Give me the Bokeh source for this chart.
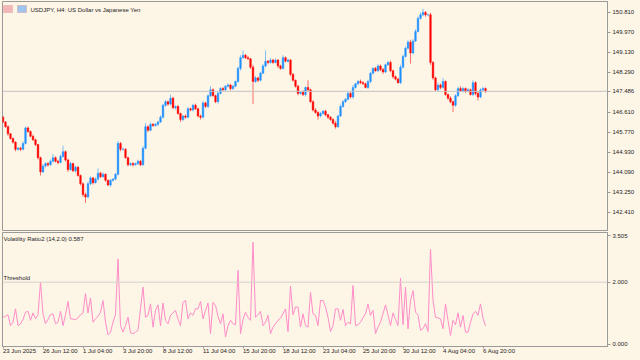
from bokeh.plotting import figure
from bokeh.layouts import column
from bokeh.models import (ColumnDataSource, FixedTicker, Range1d, Span, Label,
                          PrintfTickFormatter, BoxAnnotation)
from bokeh.embed import file_html
from bokeh.resources import INLINE
import pandas as pd

# ---------------- data ----------------
symbol_title = "USDJPY, H4:  US Dollar vs Japanese Yen"
indicator_title = "Volatility Ratio2 (14,2.0) 0.587"
threshold_text = "Threshold"
first_bar_time = "2025-06-23 20:00"
last_bar_time = "2025-08-07 00:00"
first_open = 146.40

closes = [
    146.20, 146.00, 145.70, 145.50, 145.35, 145.05, 145.10, 145.05, 145.30, 145.95,
    145.80, 145.60, 145.45, 145.25, 144.70, 144.10, 144.35, 144.45, 144.40, 144.55,
    144.70, 144.55, 144.50, 144.75, 144.95, 144.60, 144.20, 144.45, 144.15, 144.30,
    143.95, 143.60, 143.15, 143.05, 143.60, 143.85, 143.65, 143.80, 144.05, 143.90,
    144.00, 143.75, 143.55, 143.75, 143.80, 144.00, 145.30, 145.05, 145.05, 144.70,
    144.40, 144.45, 144.40, 144.45, 144.55, 144.40, 145.10, 146.00, 145.85, 146.10,
    146.05, 146.10, 146.20, 146.40, 146.90, 147.05, 146.95, 147.20, 146.80, 146.85,
    146.55, 146.30, 146.45, 146.40, 146.75, 146.70, 146.90, 146.75, 146.45, 146.40,
    147.00, 146.85, 147.30, 147.55, 147.30, 147.05, 147.40, 147.60, 147.55, 147.70,
    147.75, 147.60, 147.70, 147.90, 148.45, 148.90, 149.00, 148.90, 148.85, 148.50,
    147.90, 148.05, 147.95, 148.25, 148.55, 148.75, 148.70, 148.80, 148.70, 148.80,
    148.55, 148.45, 148.90, 148.75, 148.80, 148.20, 147.95, 147.70, 147.40, 147.45,
    147.35, 147.65, 147.55, 147.05, 146.70, 146.60, 146.45, 146.55, 146.65, 146.50,
    146.40, 146.30, 146.15, 146.00, 146.45, 146.85, 147.05, 147.15, 147.40, 147.25,
    147.65, 147.80, 147.90, 147.85, 147.80, 147.65, 147.90, 148.25, 148.45, 148.35,
    148.55, 148.40, 148.30, 148.60, 148.70, 148.35, 148.10, 148.00, 147.85, 148.50,
    148.95, 149.30, 149.55, 149.10, 149.60, 150.00, 150.55, 150.70, 150.80, 150.70,
    150.70, 148.70, 148.05, 147.55, 147.75, 147.65, 147.90, 147.35, 147.20, 147.05,
    146.90, 147.30, 147.60, 147.50, 147.60, 147.50, 147.55, 147.35, 147.85, 147.40,
    147.25, 147.55, 147.60, 147.486,
]

# upper / lower shadow lengths (in 0.01 yen)
wick_up = [
    5, 4, 6, 3, 5, 4, 5, 6, 8, 5, 6, 4, 7, 5, 3, 4, 8, 6, 5, 7,
    15, 5, 6, 8, 25, 5, 6, 8, 4, 6, 5, 4, 6, 8, 10, 6, 4, 7, 20, 5,
    8, 4, 3, 5, 4, 6, 10, 6, 8, 5, 4, 5, 6, 4, 7, 5, 8, 15, 6, 8,
    5, 6, 4, 8, 6, 8, 4, 15, 6, 5, 7, 4, 5, 6, 8, 5, 6, 7, 5, 6,
    8, 5, 6, 15, 6, 5, 8, 6, 7, 5, 8, 5, 6, 4, 8, 10, 20, 5, 8, 4,
    10, 8, 5, 6, 8, 45, 6, 8, 5, 7, 4, 6, 10, 5, 6, 4, 5, 3, 6, 4,
    8, 4, 30, 5, 6, 8, 5, 7, 5, 6, 4, 5, 6, 8, 6, 8, 7, 5, 8, 6,
    10, 4, 7, 8, 6, 5, 7, 4, 5, 6, 8, 6, 7, 5, 6, 8, 4, 5, 6, 10,
    8, 6, 8, 10, 8, 10, 8, 10, 15, 6, 5, 8, 6, 5, 10, 6, 15, 5, 4, 8,
    5, 6, 8, 10, 6, 5, 8, 5, 10, 6, 8, 6, 8, 5,
]
wick_dn = [
    6, 5, 8, 4, 6, 8, 5, 8, 4, 5, 6, 4, 5, 6, 8, 15, 5, 6, 8, 4,
    6, 5, 8, 4, 5, 6, 10, 5, 6, 8, 5, 6, 10, 25, 6, 5, 8, 4, 6, 5,
    4, 6, 5, 8, 6, 5, 5, 8, 6, 4, 6, 5, 8, 4, 6, 5, 4, 5, 8, 4,
    6, 5, 8, 4, 5, 6, 8, 5, 6, 8, 4, 10, 5, 6, 4, 5, 6, 4, 6, 10,
    5, 6, 8, 5, 4, 6, 8, 5, 4, 6, 5, 8, 6, 4, 5, 10, 5, 6, 4, 8,
    95, 6, 8, 5, 4, 6, 8, 5, 6, 4, 8, 6, 5, 4, 6, 8, 5, 6, 8, 5,
    6, 8, 5, 4, 6, 5, 15, 6, 4, 6, 8, 5, 6, 8, 5, 4, 6, 5, 4, 6,
    8, 5, 4, 6, 5, 4, 6, 8, 6, 4, 5, 6, 8, 5, 4, 6, 8, 5, 4, 6,
    5, 4, 6, 45, 6, 5, 4, 5, 6, 8, 6, 10, 8, 6, 5, 8, 6, 5, 8, 6,
    28, 6, 5, 4, 6, 8, 5, 4, 6, 8, 15, 5, 6, 6,
]

vol_ratio = [
    0.87, 0.90, 0.95, 0.60, 0.71, 1.14, 0.60, 0.66, 0.80, 1.03,
    1.06, 0.77, 1.01, 0.82, 0.95, 2.00, 0.98, 0.66, 0.80, 0.95,
    0.98, 0.66, 0.71, 1.06, 0.60, 0.95, 1.38, 0.82, 0.81, 0.79,
    0.85, 0.95, 1.01, 1.63, 1.01, 1.49, 0.71, 0.82, 0.90, 1.03,
    1.41, 0.71, 0.30, 0.39, 0.71, 0.95, 2.75, 0.60, 0.39, 0.60,
    0.87, 0.37, 0.34, 0.39, 0.45, 1.14, 1.84, 0.87, 0.93, 1.30,
    0.55, 1.09, 1.27, 0.60, 1.33, 0.77, 0.66, 0.93, 1.01, 1.09,
    0.82, 0.60, 1.35, 1.41, 0.82, 1.01, 0.93, 1.14, 1.14, 1.38,
    0.82, 1.09, 1.33, 0.34, 1.35, 1.25, 0.90, 0.66, 0.98, 0.23,
    0.60, 0.77, 0.66, 0.63, 2.38, 0.34, 0.80, 1.03, 0.87, 0.77,
    3.29, 0.87, 0.95, 1.06, 0.60, 0.71, 0.93, 0.34, 0.55, 0.66,
    0.77, 0.84, 0.98, 1.14, 0.41, 1.87, 0.95, 1.20, 1.20, 0.55,
    0.98, 0.60, 0.55, 1.68, 0.98, 0.93, 0.60, 1.41, 1.41, 1.20,
    0.87, 0.41, 0.60, 1.14, 1.14, 0.77, 1.12, 0.60, 0.71, 0.66,
    1.89, 0.60, 0.63, 0.71, 0.85, 0.98, 1.30, 0.93, 1.09, 0.34,
    0.55, 0.71, 0.98, 1.27, 0.95, 0.60, 1.01, 0.80, 0.60, 2.13,
    0.63, 1.84, 0.50, 1.41, 1.73, 1.03, 0.95, 0.45, 0.50, 0.66,
    0.41, 3.07, 1.41, 0.87, 0.85, 0.82, 0.50, 1.30, 0.77, 0.28,
    0.77, 0.63, 1.01, 0.55, 0.93, 0.39, 0.39, 0.70, 0.98, 1.06,
    0.93, 1.30, 0.84, 0.587,
]
threshold = 2.0

price_ticks = [142.41, 143.25, 144.09, 144.93, 145.77, 146.61, 148.29, 149.13, 149.97, 150.81]
vol_ticks = [0.0, 2.0, 3.505]

time_label_times = ["2025-06-23 20:00", "2025-06-26 12:00", "2025-07-01 04:00", "2025-07-03 20:00",
                    "2025-07-08 12:00", "2025-07-11 04:00", "2025-07-15 20:00", "2025-07-18 12:00",
                    "2025-07-23 04:00", "2025-07-25 20:00", "2025-07-30 12:00", "2025-08-04 04:00",
                    "2025-08-06 20:00"]
time_label_texts = ["23 Jun 2025", "26 Jun 12:00", "1 Jul 04:00", "3 Jul 20:00", "8 Jul 12:00",
                    "11 Jul 04:00", "15 Jul 20:00", "18 Jul 12:00", "23 Jul 04:00", "25 Jul 20:00",
                    "30 Jul 12:00", "4 Aug 04:00", "6 Aug 20:00"]

# ---------------- derived ----------------
times = pd.date_range(first_bar_time, last_bar_time, freq="4h")
times = times[times.weekday < 5]
n = len(closes)
idx = list(range(n))
opens = [first_open] + closes[:-1]
highs = [max(o, c) + u / 100.0 for o, c, u in zip(opens, closes, wick_up)]
lows = [min(o, c) - d / 100.0 for o, c, d in zip(opens, closes, wick_dn)]
up = [c >= o for o, c in zip(opens, closes)]

bull, bear = "#1E90FF", "#FF0000"
src = ColumnDataSource(dict(
    x=idx, o=opens, c=closes, h=highs, l=lows,
    top=[max(o, c) for o, c in zip(opens, closes)],
    bot=[min(o, c) for o, c in zip(opens, closes)],
    col=[bull if u else bear for u in up],
))

bg = "#FDF5E6"
frame_col = "#9A9A9A"
txt_col = "#1E1E1E"
FONT = "Liberation Sans"
FS = "6px"

xr = Range1d(-0.2, 241.8)
last_close = closes[-1]


def style_axis(ax):
    ax.major_label_text_font_size = FS
    ax.major_label_text_font = FONT
    ax.major_label_text_color = txt_col
    ax.major_tick_out = 3
    ax.major_tick_in = 0
    ax.minor_tick_out = 0
    ax.minor_tick_in = 0
    ax.major_label_standoff = 2
    ax.axis_line_color = frame_col
    ax.major_tick_line_color = frame_col


# ---------------- price pane ----------------
p1 = figure(width=640, height=231, x_range=xr, y_range=Range1d(141.641, 151.259),
            output_backend="svg", toolbar_location=None, y_axis_location="right",
            x_axis_location=None, min_border_left=2, min_border_right=33,
            min_border_top=1, min_border_bottom=1,
            background_fill_color=bg, border_fill_color=bg,
            outline_line_color=frame_col, outline_line_width=1)
p1.grid.visible = False
ay = p1.yaxis[0]
ay.ticker = FixedTicker(ticks=price_ticks + [last_close])
ay.formatter = PrintfTickFormatter(format="%.3f")
style_axis(ay)

p1.add_layout(Span(location=last_close, dimension="width", line_color="#C2C2C2", line_width=1))

p1.segment(x0="x", y0="l", x1="x", y1="h", source=src, line_color="col", line_alpha=0.55, line_width=1)
p1.vbar(x="x", top="top", bottom="bot", width=0.62, source=src, fill_color="col", line_color="col",
        line_width=0.5)

# chart-window icons (top left)
p1.add_layout(BoxAnnotation(left=1, right=10, top=225, bottom=218, left_units="screen",
                            right_units="screen", top_units="screen", bottom_units="screen",
                            fill_color="#F2B8B8", fill_alpha=1, line_color="#E08080", line_width=1))
p1.add_layout(BoxAnnotation(left=15, right=24, top=225, bottom=218, left_units="screen",
                            right_units="screen", top_units="screen", bottom_units="screen",
                            fill_color="#9CC6F0", fill_alpha=1, line_color="#E07070", line_width=1))
p1.add_layout(Label(x=28, y=221, x_units="screen", y_units="screen", text=symbol_title,
                    text_font=FONT, text_font_size=FS, text_color=txt_col, text_baseline="middle"))

# ---------------- indicator pane ----------------
p2 = figure(width=640, height=129, x_range=xr, y_range=Range1d(-0.074, 3.603),
            output_backend="svg", toolbar_location=None, y_axis_location="right",
            min_border_left=2, min_border_right=33, min_border_top=1, min_border_bottom=14,
            background_fill_color=bg, border_fill_color=bg,
            outline_line_color=frame_col, outline_line_width=1)
p2.grid.visible = False
by = p2.yaxis[0]
by.ticker = FixedTicker(ticks=vol_ticks)
by.formatter = PrintfTickFormatter(format="%.3f")
style_axis(by)

tick_pos = [int(times.get_loc(pd.Timestamp(t))) for t in time_label_times]
bx = p2.xaxis[0]
bx.ticker = FixedTicker(ticks=tick_pos)
bx.major_label_overrides = {t: s for t, s in zip(tick_pos, time_label_texts)}
style_axis(bx)
# a (practically) horizontal numeric orientation makes the labels start at their tick
bx.major_label_orientation = -1e-6
bx.major_tick_out = 2
bx.major_label_standoff = 2

p2.add_layout(Span(location=threshold, dimension="width", line_color="#D6D2CC", line_width=1))
p2.line(x=idx, y=vol_ratio, line_color="#FF8CC8", line_width=1)

p2.add_layout(Label(x=1, y=108, x_units="screen", y_units="screen", text=indicator_title,
                    text_font=FONT, text_font_size=FS, text_color=txt_col, text_baseline="middle"))
p2.add_layout(Label(x=1, y=threshold, x_units="screen", y_units="data", text=threshold_text,
                    y_offset=1, text_font=FONT, text_font_size=FS, text_color=txt_col,
                    text_baseline="bottom"))

layout = column(p1, p2, spacing=0, styles={"background-color": bg})
open("out.html", "w").write(file_html(layout, INLINE))
